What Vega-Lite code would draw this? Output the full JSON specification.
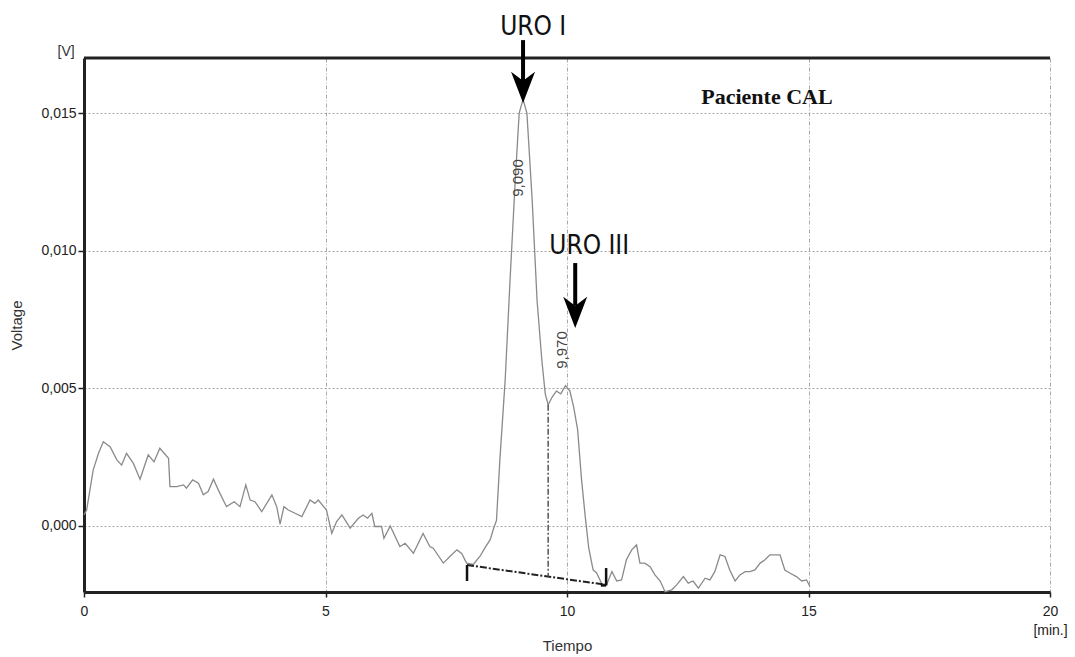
{
  "$schema": "https://vega.github.io/schema/vega-lite/v6.json",
  "width": 966,
  "height": 534,
  "autosize": "none",
  "padding": {"left": 84, "top": 58, "right": 25, "bottom": 65},
  "background": "white",
  "config": {"view": {"stroke": null}, "font": "Liberation Sans"},
  "datasets": {
    "trace": [
      {"t": 0.0, "v": 0.0004}, {"t": 0.055, "v": 0.00058}, {"t": 0.19, "v": 0.00203}, {"t": 0.3, "v": 0.00264},
      {"t": 0.4, "v": 0.00306}, {"t": 0.54, "v": 0.00288}, {"t": 0.68, "v": 0.0024}, {"t": 0.78, "v": 0.00221},
      {"t": 0.88, "v": 0.00264}, {"t": 1.02, "v": 0.00228}, {"t": 1.16, "v": 0.0017}, {"t": 1.33, "v": 0.00258},
      {"t": 1.45, "v": 0.00233}, {"t": 1.57, "v": 0.00282}, {"t": 1.75, "v": 0.00246}, {"t": 1.78, "v": 0.00143},
      {"t": 1.92, "v": 0.00143}, {"t": 2.06, "v": 0.00149}, {"t": 2.12, "v": 0.00137}, {"t": 2.25, "v": 0.00167},
      {"t": 2.37, "v": 0.00155}, {"t": 2.47, "v": 0.00113}, {"t": 2.57, "v": 0.00125}, {"t": 2.68, "v": 0.0017},
      {"t": 2.78, "v": 0.00131}, {"t": 2.95, "v": 0.0007}, {"t": 3.11, "v": 0.00088}, {"t": 3.23, "v": 0.0007},
      {"t": 3.35, "v": 0.00149}, {"t": 3.44, "v": 0.00094}, {"t": 3.54, "v": 0.00088}, {"t": 3.68, "v": 0.00052},
      {"t": 3.89, "v": 0.00113}, {"t": 3.99, "v": 0.0007}, {"t": 4.06, "v": 0.00007}, {"t": 4.14, "v": 0.0007},
      {"t": 4.23, "v": 0.00058}, {"t": 4.37, "v": 0.00046}, {"t": 4.51, "v": 0.00034}, {"t": 4.68, "v": 0.00094},
      {"t": 4.78, "v": 0.00082}, {"t": 4.85, "v": 0.00094}, {"t": 5.02, "v": 0.00058}, {"t": 5.13, "v": -0.00027},
      {"t": 5.23, "v": 0.00016}, {"t": 5.34, "v": 0.0004}, {"t": 5.51, "v": -0.00008}, {"t": 5.68, "v": 0.00028},
      {"t": 5.78, "v": 0.0004}, {"t": 5.87, "v": 0.00028}, {"t": 5.96, "v": 0.00046}, {"t": 6.02, "v": -0.00002},
      {"t": 6.16, "v": -0.00002}, {"t": 6.21, "v": -0.00045}, {"t": 6.34, "v": 0.0}, {"t": 6.54, "v": -0.00075},
      {"t": 6.65, "v": -0.00063}, {"t": 6.82, "v": -0.00099}, {"t": 7.02, "v": -0.00027}, {"t": 7.16, "v": -0.00075},
      {"t": 7.23, "v": -0.00081}, {"t": 7.44, "v": -0.00135}, {"t": 7.58, "v": -0.0011}, {"t": 7.72, "v": -0.00087},
      {"t": 7.82, "v": -0.001}, {"t": 7.92, "v": -0.00135}, {"t": 8.06, "v": -0.0014}, {"t": 8.2, "v": -0.0011},
      {"t": 8.3, "v": -0.0008}, {"t": 8.41, "v": -0.0005}, {"t": 8.47, "v": -0.00015}, {"t": 8.54, "v": 0.0002},
      {"t": 8.61, "v": 0.0024}, {"t": 8.72, "v": 0.0053}, {"t": 8.82, "v": 0.0089}, {"t": 8.93, "v": 0.0126},
      {"t": 9.01, "v": 0.015}, {"t": 9.09, "v": 0.0155}, {"t": 9.17, "v": 0.015}, {"t": 9.28, "v": 0.0118},
      {"t": 9.38, "v": 0.0082}, {"t": 9.48, "v": 0.006}, {"t": 9.55, "v": 0.0048}, {"t": 9.61, "v": 0.0044},
      {"t": 9.7, "v": 0.0047}, {"t": 9.78, "v": 0.0049}, {"t": 9.87, "v": 0.0048}, {"t": 9.97, "v": 0.0051},
      {"t": 10.06, "v": 0.0049}, {"t": 10.14, "v": 0.0043}, {"t": 10.22, "v": 0.0035}, {"t": 10.3, "v": 0.0017},
      {"t": 10.38, "v": 0.0003}, {"t": 10.45, "v": -0.0008}, {"t": 10.54, "v": -0.0016}, {"t": 10.61, "v": -0.0017},
      {"t": 10.72, "v": -0.0021}, {"t": 10.82, "v": -0.00214}, {"t": 10.93, "v": -0.00166}, {"t": 11.03, "v": -0.002},
      {"t": 11.13, "v": -0.00196}, {"t": 11.23, "v": -0.00123}, {"t": 11.34, "v": -0.00087}, {"t": 11.44, "v": -0.00069},
      {"t": 11.51, "v": -0.00135}, {"t": 11.61, "v": -0.00135}, {"t": 11.72, "v": -0.00148}, {"t": 11.82, "v": -0.00178},
      {"t": 11.93, "v": -0.002}, {"t": 12.03, "v": -0.00239}, {"t": 12.17, "v": -0.00232}, {"t": 12.27, "v": -0.00214},
      {"t": 12.41, "v": -0.00184}, {"t": 12.51, "v": -0.00208}, {"t": 12.61, "v": -0.002}, {"t": 12.72, "v": -0.00226},
      {"t": 12.86, "v": -0.0019}, {"t": 12.96, "v": -0.00196}, {"t": 13.06, "v": -0.00166}, {"t": 13.17, "v": -0.00105},
      {"t": 13.27, "v": -0.00111}, {"t": 13.37, "v": -0.0016}, {"t": 13.48, "v": -0.002}, {"t": 13.58, "v": -0.00178},
      {"t": 13.69, "v": -0.00166}, {"t": 13.79, "v": -0.00166}, {"t": 13.89, "v": -0.0016}, {"t": 14.0, "v": -0.00135},
      {"t": 14.1, "v": -0.00123}, {"t": 14.2, "v": -0.00105}, {"t": 14.41, "v": -0.00105}, {"t": 14.51, "v": -0.0016},
      {"t": 14.62, "v": -0.00172}, {"t": 14.75, "v": -0.00184}, {"t": 14.86, "v": -0.002}, {"t": 14.96, "v": -0.00196},
      {"t": 15.03, "v": -0.0022}
    ],
    "frame": [{"t": 0, "t2": 20, "v": 0.017}],
    "baseline": [{"t": 7.93, "v": -0.00142}, {"t": 10.81, "v": -0.00214}],
    "drop": [{"t": 9.61, "v": 0.0044, "v2": -0.00184}],
    "markers": [
      {"t": 7.93, "v": -0.00142, "v2": -0.002},
      {"t": 10.81, "v": -0.00153, "v2": -0.00216}
    ],
    "markerFeet": [{"t": 10.7, "t2": 10.81, "v": -0.00216}],
    "shafts": [
      {"t": 9.09, "v": 0.01765, "v2": 0.016},
      {"t": 10.17, "v": 0.00955, "v2": 0.0080}
    ],
    "heads": [{"t": 9.09, "v": 0.01593}, {"t": 10.17, "v": 0.00776}],
    "uro": [
      {"t": 9.3, "v": 0.01812, "label": "URO I"},
      {"t": 10.46, "v": 0.01017, "label": "URO III"}
    ],
    "peaks": [
      {"t": 8.99, "v": 0.01264, "label": "9,090"},
      {"t": 9.89, "v": 0.00639, "label": "9,970"}
    ],
    "patient": [{"t": 14.14, "v": 0.01558, "label": "Paciente CAL"}],
    "unit": [{"t": -0.37, "v": 0.01721, "label": "[V]"}]
  },
  "encoding": {
    "x": {
      "field": "t", "type": "quantitative",
      "scale": {"domain": [0, 20], "nice": false, "zero": false},
      "axis": {
        "title": "Tiempo", "values": [0, 5, 10, 15, 20],
        "grid": true, "gridColor": "#a8a8a8", "gridDash": [4, 2, 1, 2], "gridWidth": 1,
        "domainColor": "#222", "domainWidth": 3, "tickColor": "#222", "tickSize": 5, "tickWidth": 1.5,
        "labelFontSize": 14, "labelColor": "#222", "labelPadding": 7, "labelFlush": false,
        "labelExpr": "datum.value == 20 ? ['20', '[min.]'] : datum.label", "labelLineHeight": 19,
        "titleFontSize": 15, "titleFontWeight": "normal", "titleColor": "#333",
        "titleY": 58, "titleBaseline": "alphabetic"
      }
    },
    "y": {
      "field": "v", "type": "quantitative",
      "scale": {"domain": [-0.0024, 0.017], "nice": false, "zero": false},
      "axis": {
        "title": "Voltage", "values": [0, 0.005, 0.01, 0.015],
        "grid": true, "gridColor": "#a8a8a8", "gridDash": [2, 2], "gridWidth": 1,
        "domainColor": "#222", "domainWidth": 3, "tickColor": "#222", "tickSize": 6, "tickWidth": 1.5,
        "labelFontSize": 14, "labelColor": "#222", "labelPadding": 2,
        "labelExpr": "replace(format(datum.value, '.3f'), '.', ',')",
        "titleFontSize": 15, "titleFontWeight": "normal", "titleColor": "#333", "titleX": -60
      }
    }
  },
  "layer": [
    {
      "data": {"name": "frame"},
      "mark": {"type": "rule", "color": "#222", "strokeWidth": 3},
      "encoding": {"x2": {"field": "t2"}}
    },
    {
      "data": {"name": "trace"},
      "mark": {"type": "line", "color": "#8a8a8a", "strokeWidth": 1.3}
    },
    {
      "data": {"name": "baseline"},
      "mark": {"type": "line", "color": "#222", "strokeWidth": 2, "strokeDash": [7, 2, 2, 2]}
    },
    {
      "data": {"name": "drop"},
      "mark": {"type": "rule", "color": "#555", "strokeWidth": 1.5, "strokeDash": [6, 2, 2, 2]},
      "encoding": {"y2": {"field": "v2"}}
    },
    {
      "data": {"name": "markers"},
      "mark": {"type": "rule", "color": "#111", "strokeWidth": 2.5},
      "encoding": {"y2": {"field": "v2"}}
    },
    {
      "data": {"name": "markerFeet"},
      "mark": {"type": "rule", "color": "#111", "strokeWidth": 2.5},
      "encoding": {"x2": {"field": "t2"}}
    },
    {
      "data": {"name": "shafts"},
      "mark": {"type": "rule", "color": "#000", "strokeWidth": 4},
      "encoding": {"y2": {"field": "v2"}}
    },
    {
      "data": {"name": "heads"},
      "mark": {"type": "point", "filled": true, "color": "#000", "opacity": 1,
               "shape": "M-1,-1.3L0,-0.55L1,-1.3L0,1.3Z", "size": 576}
    },
    {
      "data": {"name": "uro"},
      "mark": {"type": "text", "font": "Liberation Sans Narrow, DejaVu Sans Condensed, sans-serif",
               "fontSize": 26, "color": "#111", "align": "center", "baseline": "middle"},
      "encoding": {"text": {"field": "label"}}
    },
    {
      "data": {"name": "peaks"},
      "mark": {"type": "text", "fontSize": 15, "color": "#444", "angle": 270,
               "align": "center", "baseline": "middle"},
      "encoding": {"text": {"field": "label"}}
    },
    {
      "data": {"name": "patient"},
      "mark": {"type": "text", "font": "Liberation Serif", "fontWeight": "bold", "fontSize": 22,
               "color": "#111", "align": "center", "baseline": "middle"},
      "encoding": {"text": {"field": "label"}}
    },
    {
      "data": {"name": "unit"},
      "mark": {"type": "text", "fontSize": 14, "color": "#333", "align": "center", "baseline": "middle"},
      "encoding": {"text": {"field": "label"}}
    }
  ]
}
